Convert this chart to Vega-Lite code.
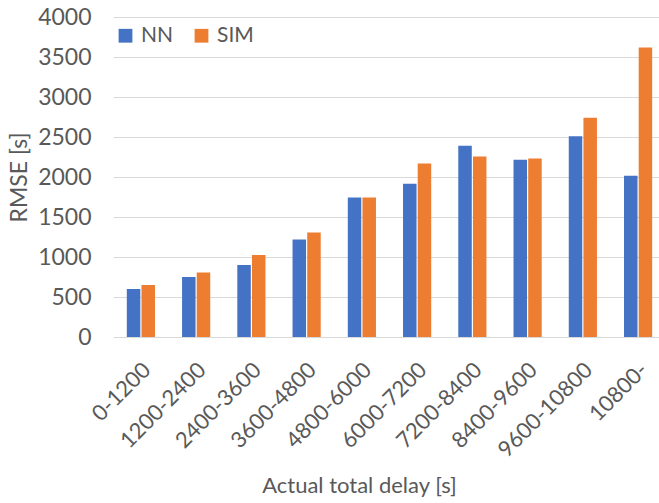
{
  "$schema": "https://vega.github.io/schema/vega-lite/v6.json",
  "width": 553,
  "height": 320,
  "autosize": {"type": "none"},
  "padding": {"left": 113, "top": 17, "right": -7, "bottom": 166},
  "background": "white",
  "data": {
    "values": [
      {"range": "0-1200", "model": "NN", "rmse": 600},
      {"range": "0-1200", "model": "SIM", "rmse": 650},
      {"range": "1200-2400", "model": "NN", "rmse": 750},
      {"range": "1200-2400", "model": "SIM", "rmse": 805},
      {"range": "2400-3600", "model": "NN", "rmse": 900},
      {"range": "2400-3600", "model": "SIM", "rmse": 1025},
      {"range": "3600-4800", "model": "NN", "rmse": 1220},
      {"range": "3600-4800", "model": "SIM", "rmse": 1305},
      {"range": "4800-6000", "model": "NN", "rmse": 1745},
      {"range": "4800-6000", "model": "SIM", "rmse": 1745},
      {"range": "6000-7200", "model": "NN", "rmse": 1915},
      {"range": "6000-7200", "model": "SIM", "rmse": 2170},
      {"range": "7200-8400", "model": "NN", "rmse": 2390},
      {"range": "7200-8400", "model": "SIM", "rmse": 2255},
      {"range": "8400-9600", "model": "NN", "rmse": 2215},
      {"range": "8400-9600", "model": "SIM", "rmse": 2230},
      {"range": "9600-10800", "model": "NN", "rmse": 2510},
      {"range": "9600-10800", "model": "SIM", "rmse": 2740},
      {"range": "10800-", "model": "NN", "rmse": 2015},
      {"range": "10800-", "model": "SIM", "rmse": 3620}
    ]
  },
  "mark": {"type": "bar"},
  "encoding": {
    "x": {
      "field": "range",
      "type": "nominal",
      "sort": null,
      "scale": {"paddingInner": 0.49, "paddingOuter": 0.25},
      "axis": {
        "title": "Actual total delay [s]",
        "labelAngle": -45,
        "labelAlign": "right",
        "labelBaseline": "top",
        "labelFontSize": 22,
        "labelColor": "#595959",
        "labelFont": "Lato",
        "labelPadding": 22,
        "labelOffset": -1,
        "domain": false,
        "ticks": false,
        "titleFont": "Lato",
        "titleFontSize": 22,
        "titleFontWeight": "normal",
        "titleColor": "#595959",
        "titleX": 246,
        "titleY": 138,
        "titleAnchor": "middle",
        "titleAlign": "center",
        "titleBaseline": "top"
      }
    },
    "xOffset": {"field": "model", "type": "nominal", "scale": {"paddingInner": 0.08}},
    "y": {
      "field": "rmse",
      "type": "quantitative",
      "scale": {"domain": [0, 4000]},
      "axis": {
        "title": "RMSE [s]",
        "values": [0, 500, 1000, 1500, 2000, 2500, 3000, 3500, 4000],
        "format": "d",
        "domain": false,
        "ticks": false,
        "grid": true,
        "gridColor": "#d9d9d9",
        "labelFontSize": 23,
        "labelColor": "#595959",
        "labelFont": "Lato",
        "labelPadding": 22,
        "titleFont": "Lato",
        "titleFontSize": 23,
        "titleFontWeight": "normal",
        "titleColor": "#595959",
        "titlePadding": 6
      }
    },
    "color": {
      "field": "model",
      "type": "nominal",
      "scale": {"domain": ["NN", "SIM"], "range": ["#4472C4", "#ED7D31"]},
      "legend": {
        "title": null,
        "orient": "none",
        "legendX": 2,
        "legendY": 8,
        "direction": "horizontal",
        "symbolType": "square",
        "symbolSize": 190,
        "symbolStrokeWidth": 0,
        "labelFontSize": 21,
        "labelFont": "Lato",
        "labelColor": "#595959",
        "columnPadding": 17,
        "labelOffset": 5
      }
    }
  },
  "config": {"view": {"stroke": null}}
}
